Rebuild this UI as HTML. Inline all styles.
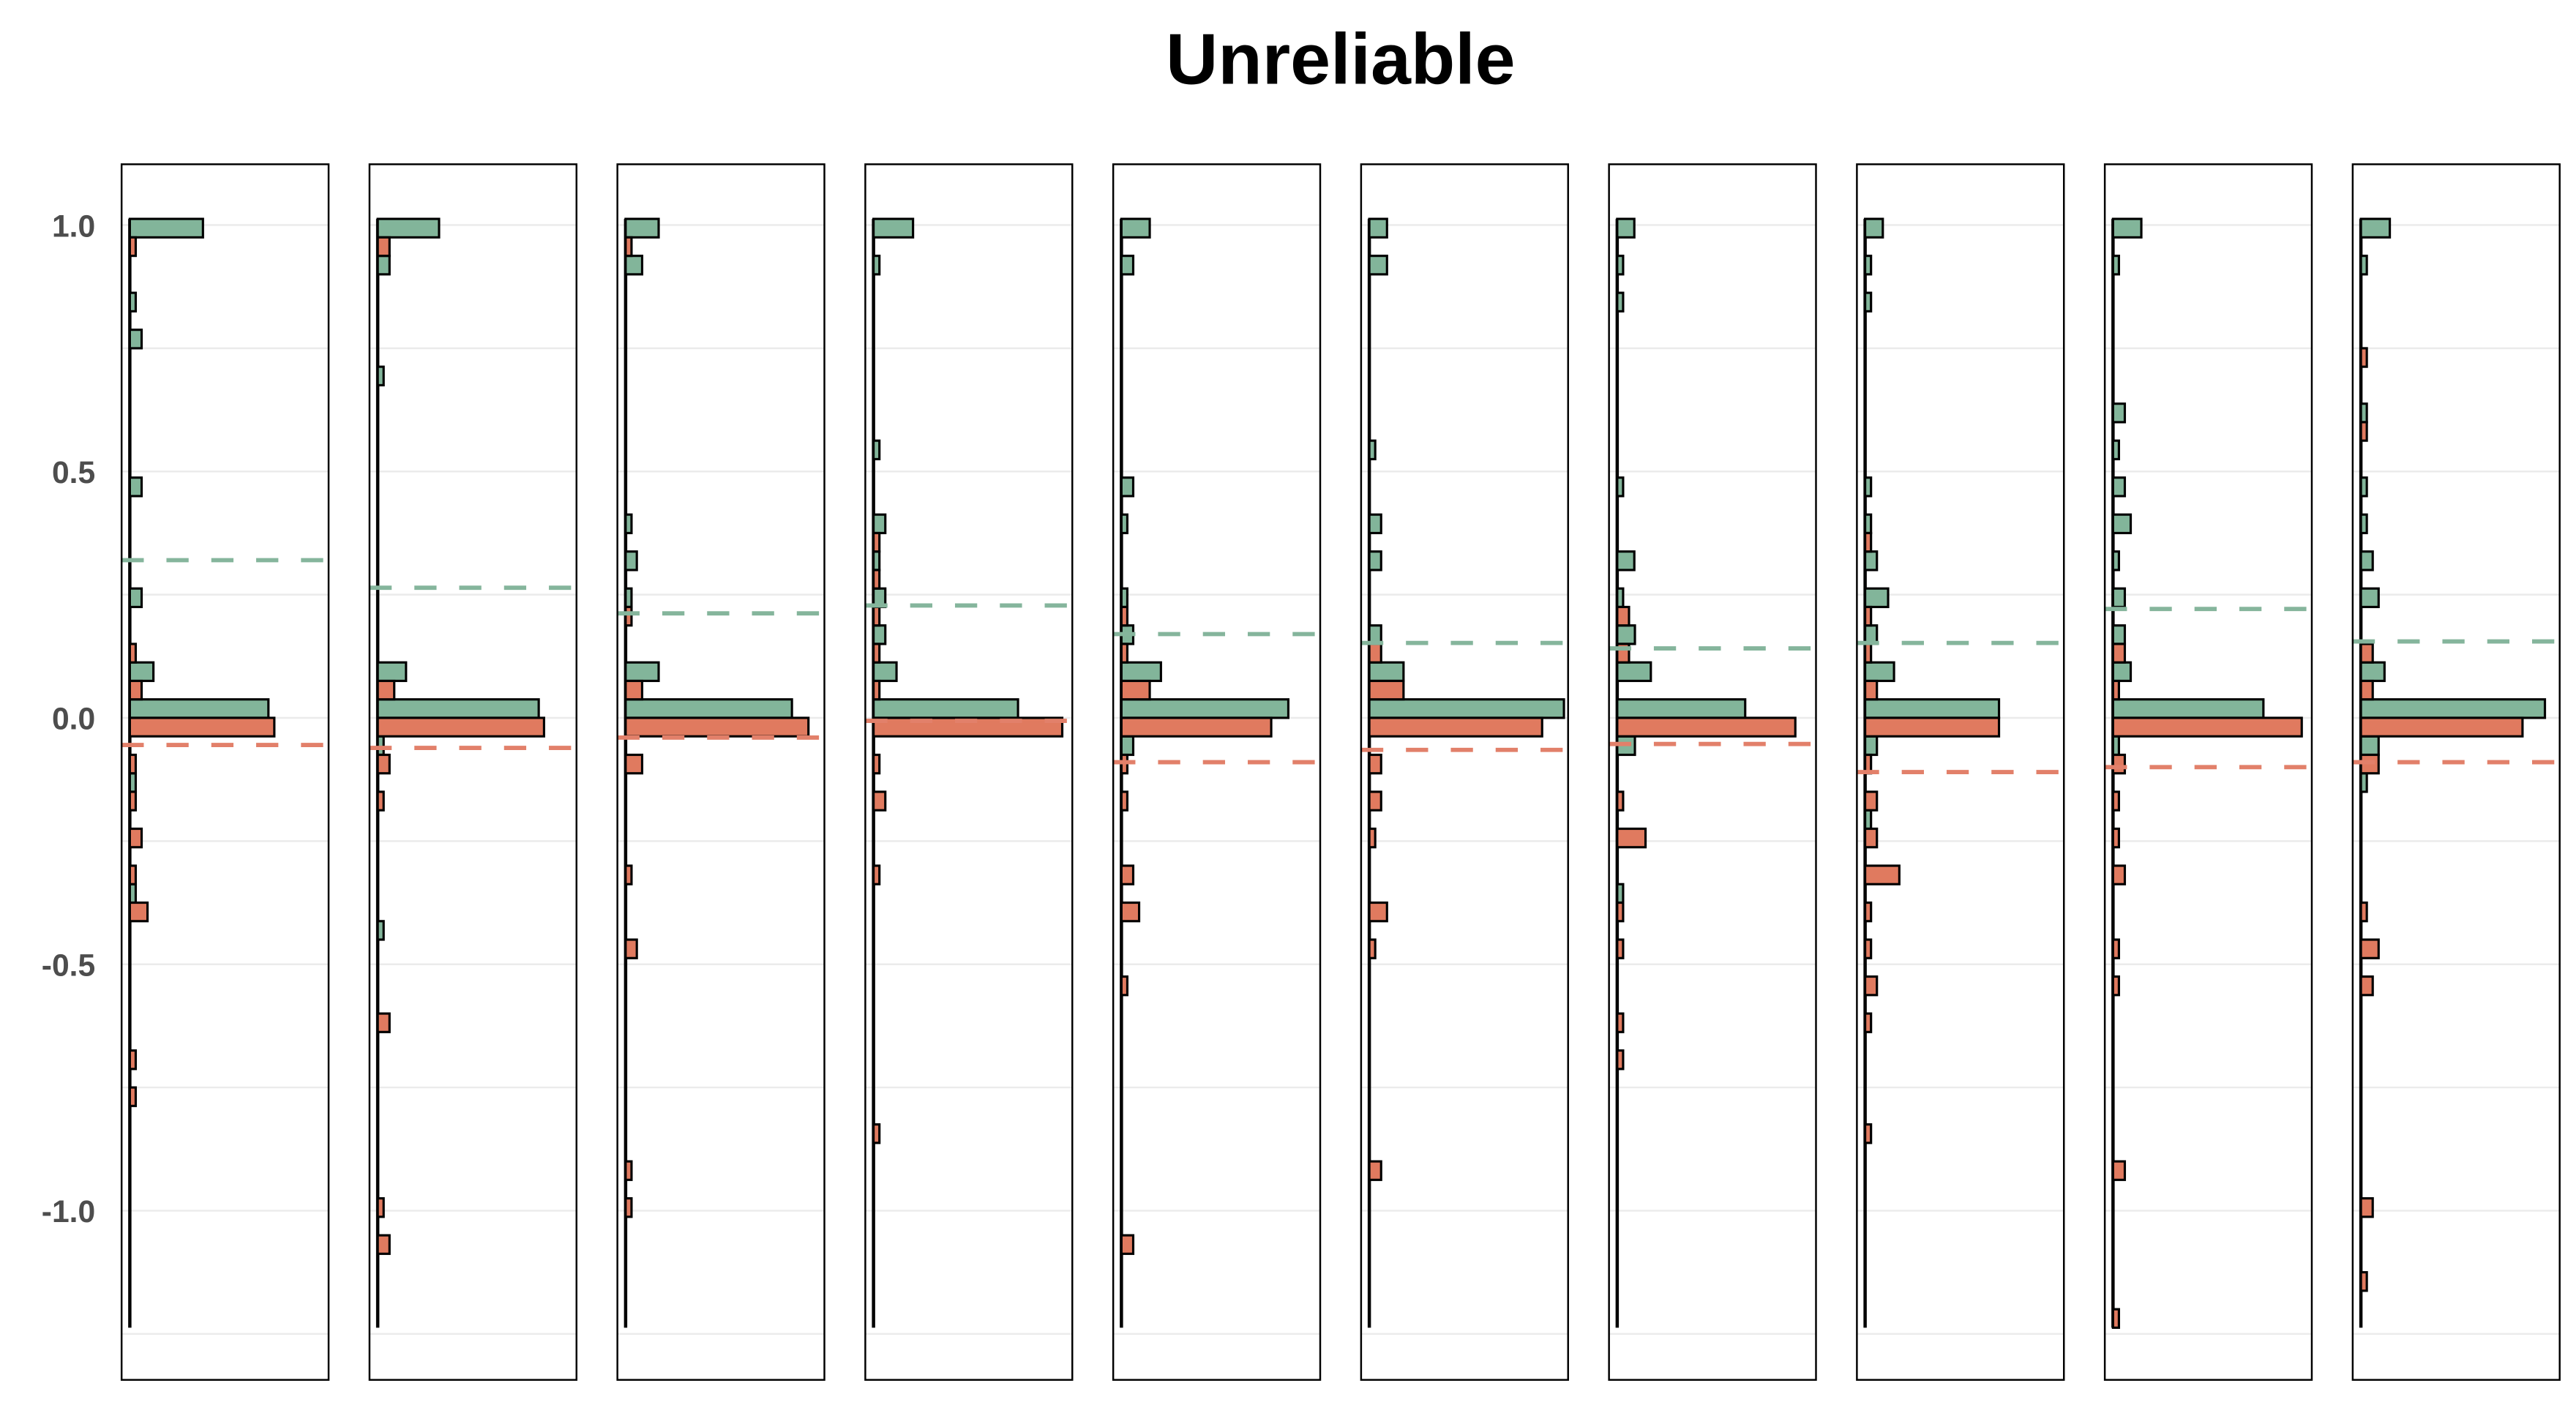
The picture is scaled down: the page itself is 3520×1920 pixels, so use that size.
<!DOCTYPE html>
<html>
<head>
<meta charset="utf-8">
<style>
html,body{margin:0;padding:0;background:#fff;}
svg{display:block;}
</style>
</head>
<body>
<svg id="chart" xmlns="http://www.w3.org/2000/svg" width="3520" height="1920" viewBox="0 0 1568 855.3">
<rect x="0" y="0" width="1568" height="855.3" fill="#ffffff"/>
<text x="816" y="51" text-anchor="middle" font-family="Liberation Sans, sans-serif" font-weight="bold" font-size="44" fill="#000">Unreliable</text>
<g id="plot"></g>
</svg>
<script>
// bin index k -> bin center k*0.075 ; pairs [binIndex, count]
const binWidth = 0.075;
const yTicks = [1.0, 0.5, 0.0, -0.5, -1.0];
const yTickLabels = ["1.0", "0.5", "0.0", "-0.5", "-1.0"];
const gridValues = [1.0, 0.75, 0.5, 0.25, 0.0, -0.25, -0.5, -0.75, -1.0, -1.25];
const binMin = -16;
const binMax = 13;
const greenBins = [
  [[13,12.4],[11,1],[10,2],[6,2],[3,2],[1,4],[0,23.5],[-2,1],[-5,1]],
  [[13,10.4],[12,2],[9,1],[1,4.8],[0,27.3],[-1,1],[-6,1]],
  [[13,5.6],[12,2.8],[5,1],[4,1.9],[3,1],[1,5.6],[0,28.2]],
  [[13,6.7],[12,1],[7,1],[5,2],[4,1],[3,2],[2,2],[1,3.9],[0,24.5]],
  [[13,4.8],[12,2],[6,2],[5,1],[3,1],[2,2],[1,6.7],[0,28.3],[-1,2]],
  [[13,3],[12,3],[7,1],[5,2],[4,2],[2,2],[1,5.8],[0,33]],
  [[13,2.9],[12,1],[11,1],[6,1],[4,2.9],[3,1],[2,3],[1,5.7],[0,21.7],[-1,3],[-5,1]],
  [[13,3],[12,1],[11,1],[6,1],[5,1],[4,2],[3,3.9],[2,2],[1,4.9],[0,22.7],[-1,2],[-3,1]],
  [[13,4.8],[12,1],[8,2],[7,1],[6,2],[5,3],[4,1],[3,2],[2,2],[1,3],[0,25.5],[-1,1]],
  [[13,4.9],[12,1],[8,1],[6,1],[5,1],[4,2],[3,3],[1,4],[0,31.2],[-1,3],[-2,1]]
];
const redBins = [
  [[13,1],[2,1],[1,2],[0,24.5],[-1,1],[-2,1],[-3,2],[-4,1],[-5,3],[-9,1],[-10,1]],
  [[13,2],[1,2.8],[0,28.2],[-1,2],[-2,1],[-8,2],[-13,1],[-14,2]],
  [[13,1],[3,1],[1,2.8],[0,31],[-1,2.8],[-4,1],[-6,1.9],[-12,1],[-13,1]],
  [[5,1],[4,1],[3,1],[2,1],[1,1],[0,32],[-1,1],[-2,2],[-4,1],[-11,1]],
  [[3,1],[2,1],[1,4.8],[0,25.4],[-1,1],[-2,1],[-4,2],[-5,3],[-7,1],[-14,2]],
  [[2,2],[1,5.8],[0,29.3],[-1,2],[-2,2],[-3,1],[-5,3],[-6,1],[-12,2]],
  [[3,2],[2,2],[0,30.2],[-2,1],[-3,4.8],[-5,1],[-6,1],[-8,1],[-9,1]],
  [[5,1],[3,1],[2,1],[1,2],[0,22.7],[-1,1],[-2,2],[-3,2],[-4,5.8],[-5,1],[-6,1],[-7,2],[-8,1],[-11,1]],
  [[2,2],[1,1],[0,32],[-1,2],[-2,1],[-3,1],[-4,2],[-6,1],[-7,1],[-12,2],[-16,1]],
  [[10,1],[8,1],[2,2],[1,2],[0,27.4],[-1,3],[-5,1],[-6,3],[-7,2],[-13,2],[-15,1]]
];
const greenMean = [0.32, 0.264, 0.212, 0.228, 0.17, 0.152, 0.141, 0.152, 0.221, 0.155];
const redMean = [-0.055, -0.061, -0.04, -0.006, -0.09, -0.065, -0.053, -0.11, -0.10, -0.09];

const NS = "http://www.w3.org/2000/svg";
const plot = document.getElementById('plot');
const GREEN = "#82b59a", RED = "#e07a5f";
const panelTop = 100, panelBottom = 840, panelW = 126, panelStep = 150.9, panelX0 = 74;
function yScale(v){ return 437 - 300 * v; }
function xScale(p, c){ return panelX0 + p * panelStep + 5 + c * 3.59; }
function mk(tag, attrs, parent){
  const e = document.createElementNS(NS, tag);
  for (const k in attrs) e.setAttribute(k, attrs[k]);
  parent.appendChild(e);
  return e;
}
// y tick labels
yTicks.forEach((v, i) => {
  const t = mk('text', {x: 58, y: yScale(v) + 7, 'text-anchor': 'end', 'font-family': 'Liberation Sans, sans-serif', 'font-weight': 'bold', 'font-size': '19', fill: '#4d4d4d'}, plot);
  t.textContent = yTickLabels[i];
  
  
});
for (let p = 0; p < 10; p++) {
  const left = panelX0 + p * panelStep;
  const g = mk('g', {}, plot);
  
  
  gridValues.forEach(v => {
    const l = mk('line', {x1: left, x2: left + panelW, y1: yScale(v), y2: yScale(v), stroke: '#ebebeb', 'stroke-width': 1.1}, g);
    
    
  });
  // baseline (zero-count bars)
  const x0 = xScale(p, 0);
  const bl = mk('line', {x1: x0, x2: x0, y1: yScale(binMax * binWidth + binWidth / 2), y2: yScale(binMin * binWidth - binWidth / 2), stroke: '#000', 'stroke-width': 2}, g);
  
  
  greenBins[p].forEach(([k, c]) => {
    const cen = k * binWidth;
    const r = mk('rect', {x: x0, y: yScale(cen + binWidth / 2), width: xScale(p, c) - x0, height: yScale(cen) - yScale(cen + binWidth / 2), fill: GREEN, stroke: '#000', 'stroke-width': 1.4}, g);
    
    
  });
  redBins[p].forEach(([k, c]) => {
    const cen = k * binWidth;
    const r = mk('rect', {x: x0, y: yScale(cen), width: xScale(p, c) - x0, height: yScale(cen - binWidth / 2) - yScale(cen), fill: RED, stroke: '#000', 'stroke-width': 1.4}, g);
    
    
  });
  const gm = mk('line', {x1: left, x2: left + panelW - 3, y1: yScale(greenMean[p]), y2: yScale(greenMean[p]), stroke: '#85b59c', 'stroke-width': 2.6, 'stroke-dasharray': '13.5 13.8'}, g);
  
  
  const rm = mk('line', {x1: left, x2: left + panelW - 3, y1: yScale(redMean[p]), y2: yScale(redMean[p]), stroke: '#e2806a', 'stroke-width': 2.6, 'stroke-dasharray': '13.5 13.8'}, g);
  
  
  const fr = mk('rect', {x: left, y: panelTop, width: panelW, height: panelBottom - panelTop, fill: 'none', stroke: '#000', 'stroke-width': 1.1}, g);
  
  
}
</script>
</body>
</html>
